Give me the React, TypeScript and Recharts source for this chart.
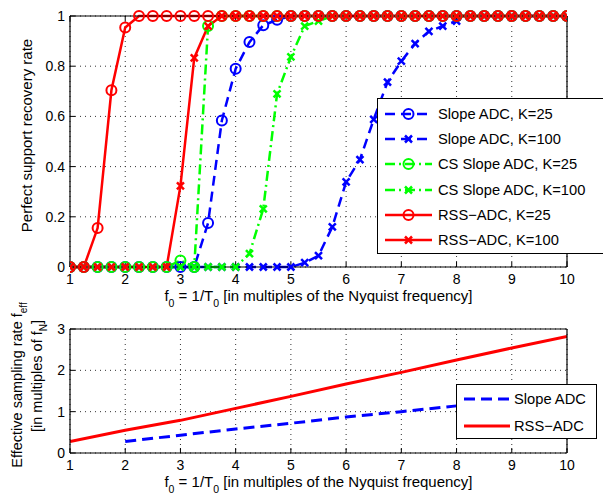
import React from 'react';
import { LineChart, Line, XAxis, YAxis, CartesianGrid, Legend } from 'recharts';

const FONT = '"Liberation Sans", Arial, Helvetica, sans-serif';

// ---------- top panel data ----------
const fValues = [1, 1.25, 1.5, 1.75, 2, 2.25, 2.5, 2.75, 3, 3.25, 3.5, 3.75, 4, 4.25, 4.5, 4.75, 5, 5.25, 5.5, 5.75, 6, 6.25, 6.5, 6.75, 7, 7.25, 7.5, 7.75, 8, 8.25, 8.5, 8.75, 9, 9.25, 9.5, 9.75, 10];
const slopeK25 = [0, 0, 0, 0, 0, 0, 0, 0, 0, 0, 0.175, 0.584, 0.79, 0.896, 0.963, 0.985, 1, 1, 1, 1, 1, 1, 1, 1, 1, 1, 1, 1, 1, 1, 1, 1, 1, 1, 1, 1, 1];
const slopeK100 = [0, 0, 0, 0, 0, 0, 0, 0, 0, 0, 0, 0, 0, 0, 0, 0, 0, 0.017, 0.045, 0.16, 0.339, 0.428, 0.588, 0.737, 0.82, 0.89, 0.939, 0.96, 0.98, 1, 1, 1, 1, 1, 1, 1, 1];
const csSlopeK25 = [0, 0, 0, 0, 0, 0, 0, 0, 0.026, 0, 0.96, 1, 1, 1, 1, 1, 1, 1, 1, 1, 1, 1, 1, 1, 1, 1, 1, 1, 1, 1, 1, 1, 1, 1, 1, 1, 1];
const csSlopeK100 = [0, 0, 0, 0, 0, 0, 0, 0, 0, 0, 0, 0, 0, 0.053, 0.232, 0.69, 0.837, 0.96, 0.98, 1, 1, 1, 1, 1, 1, 1, 1, 1, 1, 1, 1, 1, 1, 1, 1, 1, 1];
const rssK25 = [0, 0, 0.155, 0.704, 0.954, 1, 1, 1, 1, 1, 1, 1, 1, 1, 1, 1, 1, 1, 1, 1, 1, 1, 1, 1, 1, 1, 1, 1, 1, 1, 1, 1, 1, 1, 1, 1, 1];
const rssK100 = [0, 0, 0, 0, 0, 0, 0, 0, 0.323, 0.833, 0.96, 1, 1, 1, 1, 1, 1, 1, 1, 1, 1, 1, 1, 1, 1, 1, 1, 1, 1, 1, 1, 1, 1, 1, 1, 1, 1];

const xTicks = [1, 2, 3, 4, 5, 6, 7, 8, 9, 10];
const yTicksTop = [0, 0.2, 0.4, 0.6, 0.8, 1];

// ---------- bottom panel data ----------
const rateFRss = [1, 2, 3, 4, 5, 6, 7, 8, 9, 10];
const rateRss = [0.28, 0.55, 0.79, 1.08, 1.37, 1.67, 1.95, 2.25, 2.54, 2.82];
const rateFSlope = [2, 3, 4, 5, 6, 7, 8];
const rateSlope = [0.28, 0.43, 0.58, 0.72, 0.87, 1.0, 1.14];
const yTicksBottom = [0, 1, 2, 3];

const topRows = fValues.map((x, i) => ({
  x,
  slope25: slopeK25[i],
  slope100: slopeK100[i],
  cs25: csSlopeK25[i],
  cs100: csSlopeK100[i],
  rss25: rssK25[i],
  rss100: rssK100[i],
}));
const rssRows = rateFRss.map((x, i) => ({ x, v: rateRss[i] }));
const slopeRows = rateFSlope.map((x, i) => ({ x, v: rateSlope[i] }));

const BLUE = '#0000ff';
const GREEN = '#00ff00';
const RED = '#ff0000';
const DASH = '10 6';
const DASHDOT = '10 4 2 4';

const LABEL_FS = 15;
const LEGEND_FS = 14.7;

type Kind = 'o' | 'x';
const topSeries: { key: string; name: string; color: string; dash?: string; marker: Kind }[] = [
  { key: 'slope25', name: 'Slope ADC, K=25', color: BLUE, dash: DASH, marker: 'o' },
  { key: 'slope100', name: 'Slope ADC, K=100', color: BLUE, dash: DASH, marker: 'x' },
  { key: 'cs25', name: 'CS Slope ADC, K=25', color: GREEN, dash: DASHDOT, marker: 'o' },
  { key: 'cs100', name: 'CS Slope ADC, K=100', color: GREEN, dash: DASHDOT, marker: 'x' },
  { key: 'rss25', name: 'RSS\u2212ADC, K=25', color: RED, marker: 'o' },
  { key: 'rss100', name: 'RSS\u2212ADC, K=100', color: RED, marker: 'x' },
];

function drawMarker(kind: Kind, color: string, cx: number, cy: number, key: string) {
  if (kind === 'o') {
    return <circle key={key} cx={cx} cy={cy} r={5} fill="none" stroke={color} strokeWidth={2} />;
  }
  const s = 3.5;
  return (
    <g key={key} stroke={color} strokeWidth={2.5}>
      <line x1={cx - s} y1={cy - s} x2={cx + s} y2={cy + s} />
      <line x1={cx - s} y1={cy + s} x2={cx + s} y2={cy - s} />
    </g>
  );
}

const dotFn = (kind: Kind, color: string, id: string) => (props: any) => {
  const key = `${id}-${props.index}`;
  if (props.cx == null || props.cy == null) return <g key={key} />;
  return drawMarker(kind, color, props.cx, props.cy, key);
};

const tickStyle = { fontSize: 14, fill: '#000', fontFamily: FONT };

const XLabel = (props: any) => {
  const vb = props.viewBox;
  const cx = vb.x + vb.width / 2;
  const y = vb.y + 34;
  return (
    <text x={cx} y={y} textAnchor="middle" fontSize={LABEL_FS} fontFamily={FONT} fill="#000">
      f<tspan dy={6} fontSize={10.5}>0</tspan>
      <tspan dy={-6}>{' = 1/T'}</tspan>
      <tspan dy={6} fontSize={10.5}>0</tspan>
      <tspan dy={-6}>{' [in multiples of the Nyquist frequency]'}</tspan>
    </text>
  );
};

const YLabelTop = (props: any) => {
  const vb = props.viewBox;
  const x = vb.x + 2;
  const y = vb.y + vb.height / 2 - 6;
  return (
    <text transform={`translate(${x},${y}) rotate(-90)`} textAnchor="middle" fontSize={LABEL_FS} fontFamily={FONT} fill="#000">
      Perfect support recovery rate
    </text>
  );
};

const YLabelBottom = (props: any) => {
  const vb = props.viewBox;
  const cy = vb.y + vb.height / 2;
  const x1 = vb.x - 8.5;
  const x2 = vb.x + 12;
  return (
    <g>
      <text transform={`translate(${x1},${cy - 6}) rotate(-90)`} textAnchor="middle" fontSize={14.5} fontFamily={FONT} fill="#000">
        {'Effective sampling rate f'}
        <tspan dy={5} fontSize={10}>eff</tspan>
      </text>
      <text transform={`translate(${x2},${cy - 15}) rotate(-90)`} textAnchor="middle" fontSize={14.5} fontFamily={FONT} fill="#000">
        {'[in multiples of f'}
        <tspan dy={5} fontSize={10}>N</tspan>
        <tspan dy={-5}>]</tspan>
      </text>
    </g>
  );
};

const LegendSample = ({ color, dash, marker, width = 47 }: { color: string; dash?: string; marker?: Kind; width?: number }) => (
  <svg width={width} height={14} style={{ position: 'absolute', left: 0, top: 0, overflow: 'visible' }}>
    <line x1={0} y1={7} x2={width} y2={7} stroke={color} strokeWidth={2.5} strokeDasharray={dash} />
    {marker ? drawMarker(marker, color, width / 2, 7, 'm') : null}
  </svg>
);

const TopLegend = () => (
  <div
    style={{
      position: 'relative',
      width: 240,
      height: 156,
      boxSizing: 'border-box',
      border: '1px solid #000',
      borderRight: 'none',
      background: '#fff',
      fontFamily: FONT,
      fontSize: LEGEND_FS,
      color: '#000',
    }}
  >
    {topSeries.map((s, i) => {
      const cy = 15 + 25.2 * i;
      return (
        <div key={s.key} style={{ position: 'absolute', left: 0, top: cy - 10, height: 20, width: 240 }}>
          <div style={{ position: 'absolute', left: 7, top: 3 }}>
            <LegendSample color={s.color} dash={s.dash} marker={s.marker} />
          </div>
          <div style={{ position: 'absolute', left: 60, top: 0, lineHeight: '20px', whiteSpace: 'nowrap' }}>{s.name}</div>
        </div>
      );
    })}
  </div>
);

const bottomSeries = [
  { name: 'Slope ADC', color: BLUE, dash: '11 6' },
  { name: 'RSS\u2212ADC', color: RED, dash: undefined as string | undefined },
];

const BottomLegend = () => (
  <div
    style={{
      position: 'relative',
      width: 141,
      height: 55,
      boxSizing: 'border-box',
      border: '1px solid #000',
      background: '#fff',
      fontFamily: FONT,
      fontSize: LEGEND_FS,
      color: '#000',
    }}
  >
    {bottomSeries.map((s, i) => {
      const cy = 14.3 + 26.4 * i;
      return (
        <div key={s.name} style={{ position: 'absolute', left: 0, top: cy - 10, height: 20, width: 141 }}>
          <div style={{ position: 'absolute', left: 7, top: 3 }}>
            <svg width={46} height={14} style={{ overflow: 'visible' }}>
              <line x1={0} y1={7} x2={46} y2={7} stroke={s.color} strokeWidth={3} strokeDasharray={s.dash} />
            </svg>
          </div>
          <div style={{ position: 'absolute', left: 57, top: 0, lineHeight: '20px', whiteSpace: 'nowrap' }}>{s.name}</div>
        </div>
      );
    })}
  </div>
);

const axisLine = { stroke: '#000', strokeWidth: 1.2 };
const tickLine = { stroke: '#000', strokeWidth: 1 };
const empty = () => '';

export default function App() {
  return (
    <div style={{ position: 'absolute', left: 0, top: 0, width: 603, height: 495, overflow: 'hidden', background: '#fff', fontFamily: FONT }}>
      <div style={{ position: 'absolute', left: 0, top: 0 }}>
        <LineChart width={603} height={310} data={topRows} margin={{ top: 15, right: 35, bottom: 13, left: 30 }}>
          <CartesianGrid stroke="#333" strokeDasharray="1 4" strokeWidth={1} />
          <XAxis
            dataKey="x"
            type="number"
            domain={[1, 10]}
            ticks={xTicks}
            interval={0}
            allowDataOverflow
            height={30}
            tickSize={-5}
            tickMargin={12}
            tick={tickStyle}
            tickLine={tickLine}
            axisLine={axisLine}
            label={XLabel}
          />
          <XAxis
            xAxisId="top"
            orientation="top"
            dataKey="x"
            type="number"
            domain={[1, 10]}
            ticks={xTicks}
            interval={0}
            height={1}
            tickSize={-5}
            tickFormatter={empty}
            tickLine={tickLine}
            axisLine={axisLine}
          />
          <YAxis
            type="number"
            domain={[0, 1]}
            ticks={yTicksTop}
            interval={0}
            width={40}
            tickSize={-5}
            tickMargin={10}
            tick={tickStyle}
            tickLine={tickLine}
            axisLine={axisLine}
            label={YLabelTop}
          />
          <YAxis
            yAxisId="right"
            orientation="right"
            type="number"
            domain={[0, 1]}
            ticks={yTicksTop}
            interval={0}
            width={1}
            tickSize={-5}
            tickFormatter={empty}
            tickLine={tickLine}
            axisLine={axisLine}
          />
          {topSeries.map((s) => (
            <Line
              key={s.key}
              dataKey={s.key}
              name={s.name}
              stroke={s.color}
              strokeWidth={2.5}
              strokeDasharray={s.dash}
              dot={dotFn(s.marker, s.color, s.key)}
              activeDot={false}
              isAnimationActive={false}
            />
          ))}
          <Legend
            layout="vertical"
            align="center"
            verticalAlign="middle"
            wrapperStyle={{ left: 377, top: 98, width: 240, height: 156 }}
            content={() => <TopLegend />}
          />
        </LineChart>
      </div>
      <div style={{ position: 'absolute', left: 0, top: 290 }}>
        <LineChart width={603} height={205} margin={{ top: 38, right: 35, bottom: 12, left: 30 }}>
          <CartesianGrid stroke="#333" strokeDasharray="1 4" strokeWidth={1} />
          <XAxis
            dataKey="x"
            type="number"
            domain={[1, 10]}
            ticks={xTicks}
            interval={0}
            allowDataOverflow
            height={30}
            tickSize={-5}
            tickMargin={12}
            tick={tickStyle}
            tickLine={tickLine}
            axisLine={axisLine}
            label={XLabel}
          />
          <XAxis
            xAxisId="top"
            orientation="top"
            dataKey="x"
            type="number"
            domain={[1, 10]}
            ticks={xTicks}
            interval={0}
            height={1}
            tickSize={-5}
            tickFormatter={empty}
            tickLine={tickLine}
            axisLine={axisLine}
          />
          <YAxis
            type="number"
            domain={[0, 3]}
            ticks={yTicksBottom}
            interval={0}
            width={40}
            tickSize={-5}
            tickMargin={10}
            tick={tickStyle}
            tickLine={tickLine}
            axisLine={axisLine}
            label={YLabelBottom}
          />
          <YAxis
            yAxisId="right"
            orientation="right"
            type="number"
            domain={[0, 3]}
            ticks={yTicksBottom}
            interval={0}
            width={1}
            tickSize={-5}
            tickFormatter={empty}
            tickLine={tickLine}
            axisLine={axisLine}
          />
          <Line
            data={slopeRows}
            dataKey="v"
            name="Slope ADC"
            stroke={BLUE}
            strokeWidth={3}
            strokeDasharray="11 6"
            dot={false}
            activeDot={false}
            isAnimationActive={false}
          />
          <Line
            data={rssRows}
            dataKey="v"
            name="RSS-ADC"
            stroke={RED}
            strokeWidth={3}
            dot={false}
            activeDot={false}
            isAnimationActive={false}
          />
          <Legend
            layout="vertical"
            align="center"
            verticalAlign="middle"
            wrapperStyle={{ left: 456, top: 94, width: 141, height: 55 }}
            content={() => <BottomLegend />}
          />
        </LineChart>
      </div>
    </div>
  );
}
